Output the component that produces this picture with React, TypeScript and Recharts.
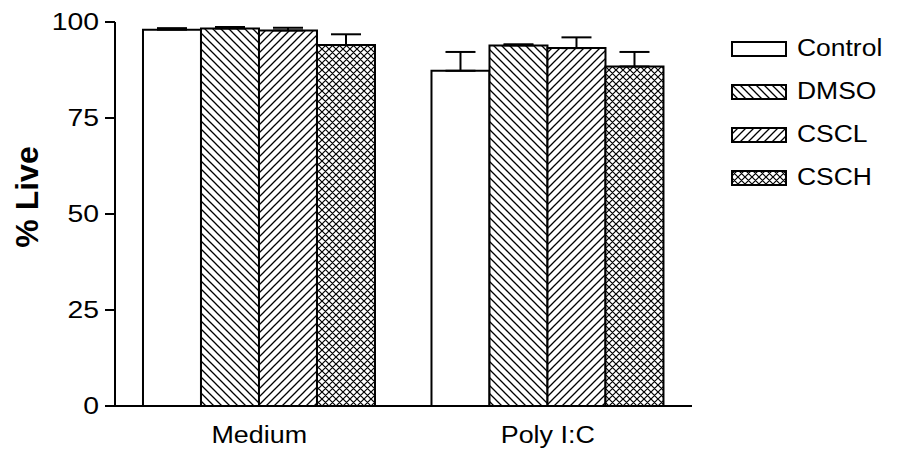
import React from "react";
import {
  BarChart,
  Bar,
  XAxis,
  YAxis,
  ErrorBar,
  Legend,
} from "recharts";

const categories = ["Medium", "Poly I:C"];
const seriesNames = ["Control", "DMSO", "CSCL", "CSCH"];
const seriesKeys = ["ctrl", "dmso", "cscl", "csch"];

// mean % live per series, one value per category
const controlValues = [98.0, 87.3];
const dmsoValues = [98.3, 93.9];
const csclValues = [97.8, 93.2];
const cschValues = [94.0, 88.4];

// upper error (SEM) per series
const controlErr = [0.4, 4.9];
const dmsoErr = [0.4, 0.3];
const csclErr = [0.7, 2.8];
const cschErr = [2.8, 3.8];

const yTicks = [0, 25, 50, 75, 100];

const valuesBySeries = [controlValues, dmsoValues, csclValues, cschValues];
const errBySeries = [controlErr, dmsoErr, csclErr, cschErr];

const data = categories.map((name, i) => {
  const row: any = { name };
  seriesKeys.forEach((k, s) => {
    row[k] = valuesBySeries[s][i];
    row[k + "Err"] = [0, errBySeries[s][i]];
  });
  return row;
});

const FONT = "'Liberation Sans', Arial, sans-serif";

function Patterns() {
  return (
    <svg width={0} height={0} style={{ position: "absolute" }}>
      <defs>
        <pattern id="pat-ctrl" patternUnits="userSpaceOnUse" width={8} height={8}>
          <rect width={8} height={8} fill="#fff" />
        </pattern>
        <pattern id="pat-dmso" patternUnits="userSpaceOnUse" width={8} height={8}>
          <rect width={8} height={8} fill="#fff" />
          <path d="M0,0 L8,8 M-2,6 L2,10 M6,-2 L10,2" stroke="#000" strokeWidth={1.3} />
        </pattern>
        <pattern id="pat-cscl" patternUnits="userSpaceOnUse" width={8} height={8}>
          <rect width={8} height={8} fill="#fff" />
          <path d="M0,8 L8,0 M-2,2 L2,-2 M6,10 L10,6" stroke="#000" strokeWidth={1.3} />
        </pattern>
        <pattern id="pat-csch" patternUnits="userSpaceOnUse" width={7} height={7}>
          <rect width={7} height={7} fill="#fff" />
          <path
            d="M0,0 L7,7 M-2,5 L2,9 M5,-2 L9,2 M0,7 L7,0 M-2,2 L2,-2 M5,9 L9,5"
            stroke="#000"
            strokeWidth={1.2}
          />
        </pattern>
      </defs>
    </svg>
  );
}

function YTick(props: any) {
  const { x, y, payload } = props;
  return (
    <text
      transform={`translate(${x - 4}, ${y}) scale(1.18, 1)`}
      textAnchor="end"
      dominantBaseline="central"
      fontSize={24}
      fontFamily={FONT}
      fill="#000"
    >
      {payload.value}
    </text>
  );
}

function XTick(props: any) {
  const { x, y, payload } = props;
  return (
    <text
      transform={`translate(${x}, ${y + 29}) scale(1.12, 1)`}
      textAnchor="middle"
      fontSize={24}
      fontFamily={FONT}
      fill="#000"
    >
      {payload.value}
    </text>
  );
}

function LegendContent() {
  return (
    <div>
      {seriesKeys.map((k, i) => (
        <div
          key={k}
          style={{ display: "flex", alignItems: "center", height: 43 }}
        >
          <svg width={56} height={16} style={{ display: "block" }}>
            <rect
              x={1}
              y={1}
              width={54}
              height={14}
              fill={`url(#pat-${k})`}
              stroke="#000"
              strokeWidth={2}
            />
          </svg>
          <span
            style={{
              marginLeft: 10,
              fontFamily: FONT,
              fontSize: 23,
              display: "inline-block",
              transform: "scaleX(1.15)",
              transformOrigin: "left center",
              color: "#000",
            }}
          >
            {seriesNames[i]}
          </span>
        </div>
      ))}
    </div>
  );
}

export default function App() {
  return (
    <div style={{ position: "absolute", left: 0, top: 0, width: 897, height: 449, background: "#fff" }}>
      <Patterns />
      <BarChart
        width={897}
        height={449}
        data={data}
        margin={{ top: 22, right: 39, bottom: 0, left: 35 }}
        barCategoryGap="9.7%"
        barGap={0}
      >
        <XAxis
          dataKey="name"
          height={43}
          axisLine={{ stroke: "#000", strokeWidth: 2 }}
          tickLine={false}
          tick={<XTick />}
          interval={0}
        />
        <YAxis
          width={80}
          domain={[0, 100]}
          ticks={yTicks}
          interval={0}
          axisLine={{ stroke: "#000", strokeWidth: 2 }}
          tickLine={{ stroke: "#000", strokeWidth: 2 }}
          tickSize={10}
          tick={<YTick />}
          label={{
            content: () => (
              <text
                transform="translate(38, 197) rotate(-90)"
                textAnchor="middle"
                fontSize={32}
                fontWeight="bold"
                fontFamily={FONT}
                fill="#000"
              >
                % Live
              </text>
            ),
          }}
        />
        <Legend
          layout="vertical"
          verticalAlign="top"
          align="right"
          content={<LegendContent />}
          wrapperStyle={{ left: 731, top: 27, width: 166 }}
        />
        {seriesKeys.map((k, i) => (
          <Bar
            key={k}
            dataKey={k}
            name={seriesNames[i]}
            fill={`url(#pat-${k})`}
            stroke="#000"
            strokeWidth={2}
            isAnimationActive={false}
          >
            <ErrorBar
              dataKey={k + "Err"}
              width={15}
              stroke="#000"
              strokeWidth={2}
              direction="y"
            />
          </Bar>
        ))}
      </BarChart>
    </div>
  );
}
